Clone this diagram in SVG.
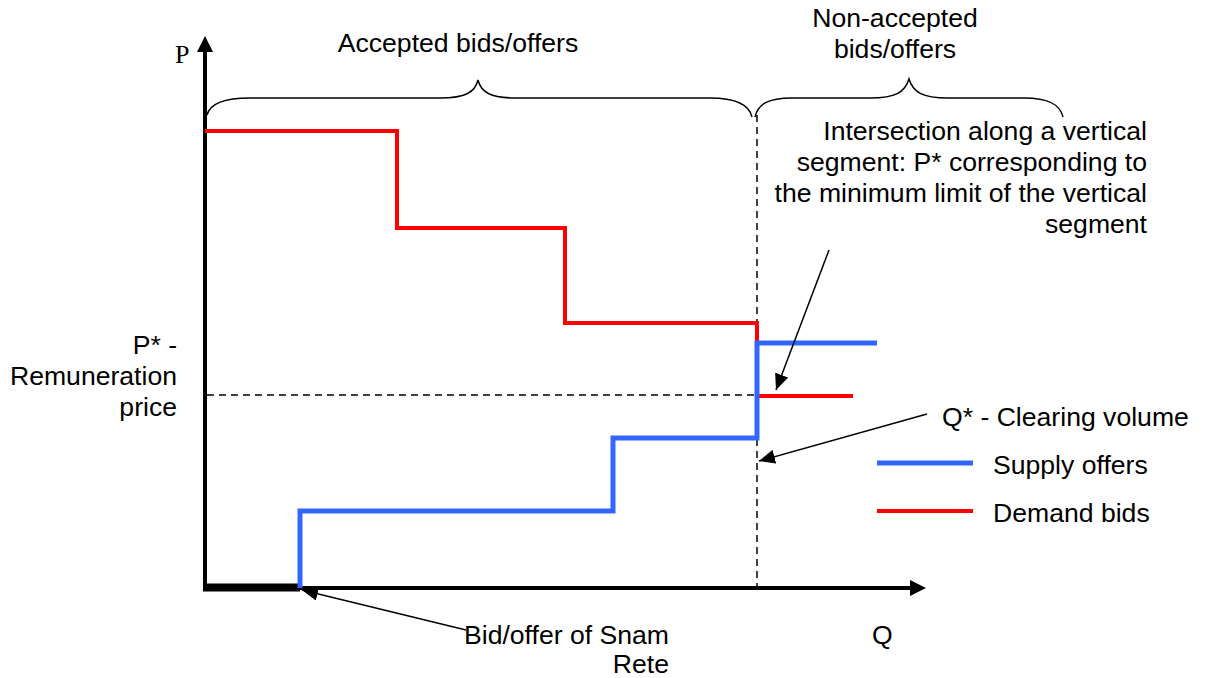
<svg xmlns="http://www.w3.org/2000/svg" width="1207" height="678" viewBox="0 0 1207 678">
<style>
.t{font-family:"Liberation Sans",Arial,sans-serif;font-size:26.6px;fill:#000}
.s{font-family:"Liberation Serif","Times New Roman",serif;font-size:26px;fill:#000}
.red{fill:none;stroke:#FF0000;stroke-width:4}
.blue{fill:none;stroke:#3366FF;stroke-width:5}
.dash{fill:none;stroke:#000;stroke-width:1.5;stroke-dasharray:7,5}
.brace{fill:none;stroke:#000;stroke-width:1.5}
.ax{fill:none;stroke:#000;stroke-width:4}
.arr{fill:none;stroke:#000;stroke-width:1.5}
</style>
<defs>
<marker id="ah" viewBox="0 0 16 14" refX="16" refY="7" markerWidth="16" markerHeight="14" markerUnits="userSpaceOnUse" orient="auto">
<path d="M0,0 L16,7 L0,14 Z" fill="#000"/>
</marker>
</defs>
<rect width="1207" height="678" fill="#fff"/>
<g id="guides">
<line class="dash" x1="207" y1="395" x2="757" y2="395"/>
<line class="dash" x1="757" y1="115" x2="757" y2="588"/>
</g>
<g id="axes">
<line class="ax" x1="205" y1="588" x2="205" y2="50"/>
<path d="M197,52 L205,36 L213,52 Z" fill="#000"/>
<line class="ax" x1="203" y1="588" x2="911" y2="588"/>
<path d="M910,580 L926,588 L910,596 Z" fill="#000"/>
<line x1="203" y1="587.5" x2="300" y2="587.5" stroke="#000" stroke-width="8"/>
<text class="s" x="175" y="63">P</text>
<text class="t" x="872" y="644">Q</text>
</g>
<g id="demand">
<path class="red" d="M205,131 H397 V228 H565 V323 H757 V343"/>
<path class="red" d="M757,396 H853"/>
</g>
<g id="supply">
<path class="blue" d="M300,588 V511 H613 V438 H757 V343 H877"/>
</g>
<g id="accepted">
<path class="brace" d="M207,115 C210,103 224,98 250,98 L440,98 C466,98 475,92 478,80 C481,92 490,98 516,98 L710,98 C736,98 749,104 752,117"/>
<text class="t" x="458" y="52" text-anchor="middle">Accepted bids/offers</text>
</g>
<g id="non-accepted">
<path class="brace" d="M755,117 C758,104 768,98 792,98 L870,98 C896,98 905,92 909,79 C913,92 922,98 948,98 L1024,98 C1048,98 1060,104 1063,117"/>
<text class="t" x="895" y="27" text-anchor="middle">Non-accepted</text>
<text class="t" x="895" y="58" text-anchor="middle">bids/offers</text>
</g>
<g id="intersection-note">
<text class="t" text-anchor="end"><tspan x="1147" y="140">Intersection along a vertical</tspan><tspan x="1147" y="171">segment: P* corresponding to</tspan><tspan x="1147" y="202">the minimum limit of the vertical</tspan><tspan x="1147" y="233">segment</tspan></text>
</g>
<g id="price-label">
<text class="t" text-anchor="end"><tspan x="177" y="354">P* -</tspan><tspan x="177" y="385">Remuneration</tspan><tspan x="177" y="416">price</tspan></text>
</g>
<g id="clearing-label">
<text class="t" x="942" y="426">Q* - Clearing volume</text>
</g>
<g id="snam-label">
<text class="t" text-anchor="end"><tspan x="669" y="644">Bid/offer of Snam</tspan><tspan x="669" y="673">Rete</tspan></text>
</g>
<g id="legend">
<line x1="877" y1="463" x2="973" y2="463" stroke="#3366FF" stroke-width="5"/>
<text class="t" x="993" y="474">Supply offers</text>
<line x1="877" y1="511" x2="973" y2="511" stroke="#FF0000" stroke-width="4"/>
<text class="t" x="993" y="522">Demand bids</text>
</g>
<g id="connectors">
<line class="arr" x1="829" y1="250" x2="776" y2="390" marker-end="url(#ah)"/>
<line class="arr" x1="927" y1="414" x2="759" y2="461" marker-end="url(#ah)"/>
<line class="arr" x1="466" y1="630" x2="302" y2="590" marker-end="url(#ah)"/>
</g>
</svg>
